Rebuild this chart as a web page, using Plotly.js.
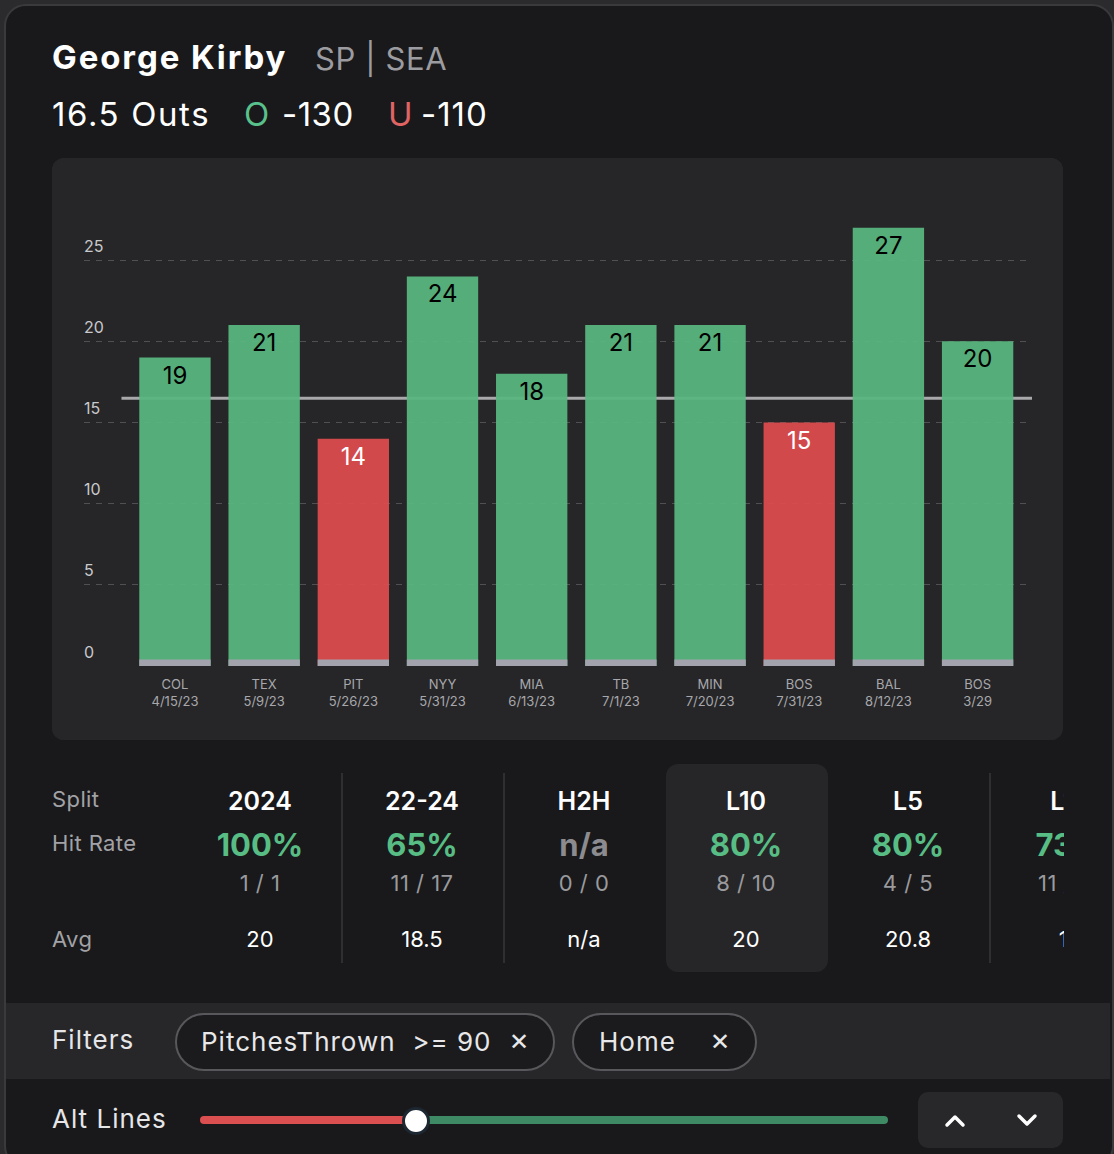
<!DOCTYPE html>
<html>
<head>
<meta charset="utf-8">
<script src="https://cdn.plot.ly/plotly-3.0.1.min.js"></script>
<style>
  html, body { margin:0; padding:0; }
  body { width:1114px; height:1154px; background:#2b2b2d; position:relative; overflow:hidden; font-family: Inter, "Noto Sans", sans-serif; }
  #card { position:absolute; left:4px; top:4px; width:1106px; height:1160px; background:#19191b; border:2px solid #3a3a3c; border-radius:22px; }
  .abs { position:absolute; white-space:nowrap; }
  #chartWrap { position:absolute; left:52px; top:158px; width:1011px; height:582px; border-radius:12px; overflow:hidden; background:#262628; }
  #chart { width:1011px; height:582px; }
  #tableClip { position:absolute; left:0; top:760px; width:1064px; height:230px; overflow:hidden; }
  .col { position:absolute; top:0; width:162px; height:230px; }
  .col div { position:absolute; left:0; width:100%; text-align:center; }
  .hdr { top:26px; font-size:25px; font-weight:600; color:#ffffff; }
  .pct { top:66px; font-size:31px; font-weight:700; color:#57bd84; }
  .frac { top:110px; font-size:22px; color:#9a9a9e; letter-spacing:0.5px; }
  .avg { top:166px; font-size:22px; color:#ffffff; }
  .divider { position:absolute; top:13px; width:2px; height:190px; background:#2f2f31; }
  .lbl { position:absolute; left:52px; font-size:22px; color:#a2a2a6; letter-spacing:0.4px; }
  #filters { position:absolute; left:6px; top:1003px; width:1104px; height:76px; background:#27272a; }
  .pill { position:absolute; top:1013px; height:54px; border:2px solid #58585c; border-radius:30px; background:#1b1b1d; color:#e8e8ea; font-size:26px; line-height:54px; letter-spacing:1px; }
</style>
</head>
<body>
<div id="card"></div>

<div class="abs" style="left:52px; top:37px; font-size:33px; font-weight:700; color:#fff; letter-spacing:1.9px;">George Kirby</div>
<div class="abs" style="left:315px; top:40px; font-size:31px; color:#9c9ca0; letter-spacing:0.6px;">SP | SEA</div>
<div class="abs" style="left:52px; top:94px; font-size:33px; color:#fff; letter-spacing:1.6px;">16.5 Outs</div>
<div class="abs" style="left:244px; top:94px; font-size:33px; color:#59c28c;">O</div>
<div class="abs" style="left:282px; top:94px; font-size:33px; color:#fff; letter-spacing:0.5px;">-130</div>
<div class="abs" style="left:388px; top:94px; font-size:33px; color:#e06464;">U</div>
<div class="abs" style="left:421px; top:94px; font-size:33px; color:#fff; letter-spacing:1px;">-110</div>

<div id="chartWrap"><div id="chart"></div></div>

<div id="tableClip">
  <div class="lbl" style="top:26px;">Split</div>
  <div class="lbl" style="top:70px;">Hit Rate</div>
  <div class="lbl" style="top:166px;">Avg</div>
  <div id="cols"></div>
</div>

<div id="filters">
  <div class="abs" style="left:46px; top:21px; font-size:26px; color:#e6e6e8; letter-spacing:1px;">Filters</div>
</div>
<div class="pill" style="left:175px; width:376px;"><span style="margin-left:24px;">PitchesThrown&nbsp;&nbsp;&gt;= 90</span><span style="position:absolute; left:332px; font-size:24px;">✕</span></div>
<div class="pill" style="left:572px; width:181px;"><span style="margin-left:25px;">Home</span><span style="position:absolute; left:136px; font-size:24px;">✕</span></div>

<div class="abs" style="left:52px; top:1103px; font-size:26px; color:#e6e6e8; letter-spacing:1px;">Alt Lines</div>
<div class="abs" style="left:200px; top:1116px; width:215px; height:8px; background:#dc4f50; border-radius:4px 0 0 4px;"></div>
<div class="abs" style="left:415px; top:1116px; width:473px; height:8px; background:#3e8a64; border-radius:0 4px 4px 0;"></div>
<div class="abs" style="left:402px; top:1107px; width:22px; height:22px; background:#fff; border-radius:50%; border:3px solid #1d2731;"></div>
<div class="abs" style="left:918px; top:1092px; width:145px; height:56px; background:#28282b; border-radius:10px;"></div>
<svg class="abs" style="left:918px; top:1092px;" width="145" height="56">
  <polyline points="29,33 37,25 45,33" fill="none" stroke="#fff" stroke-width="3.5" stroke-linecap="round" stroke-linejoin="round"/>
  <polyline points="101,24 109,32 117,24" fill="none" stroke="#fff" stroke-width="3.5" stroke-linecap="round" stroke-linejoin="round"/>
</svg>

<script>
// ---------- data ----------
const teams = ['COL','TEX','PIT','NYY','MIA','TB','MIN','BOS','BAL','BOS'];
const dates = ['4/15/23','5/9/23','5/26/23','5/31/23','6/13/23','7/1/23','7/20/23','7/31/23','8/12/23','3/29'];
const outs  = [19, 21, 14, 24, 18, 21, 21, 15, 27, 20];
const propLine = 16.5;
const yTicks = [0, 5, 10, 15, 20, 25];

const splits    = ['2024', '22-24', 'H2H', 'L10', 'L5', 'L15'];
const hitRates  = ['100%', '65%', 'n/a', '80%', '80%', '73%'];
const fractions = ['1 / 1', '11 / 17', '0 / 0', '8 / 10', '4 / 5', '11 / 15'];
const avgs      = ['20', '18.5', 'n/a', '20', '20.8', '18'];
const selectedSplit = 'L10';

// ---------- chart ----------
const GREEN = 'rgb(88,183,127)';
const RED = 'rgb(221,75,78)';
const xIdx = teams.map((_, i) => i);
const colors = outs.map(v => v > propLine ? GREEN : RED);
const txtColors = outs.map(v => v > propLine ? '#000000' : '#ffffff');
const stripH = teams.map(() => 0.4);

const bars = {
  type: 'bar', x: xIdx, y: outs, width: 0.8,
  marker: { color: colors, opacity: 0.94, line: { width: 0 } },
  text: outs.map(String), textposition: 'inside', insidetextanchor: 'end',
  textangle: 0, constraintext: 'none',
  textfont: { family: 'Inter, sans-serif', size: 24, color: txtColors },
  hoverinfo: 'skip'
};
const strips = {
  type: 'bar', x: xIdx, y: stripH, width: 0.8,
  marker: { color: '#a3a3ad', line: { width: 0 } }, hoverinfo: 'skip'
};

const layout = {
  width: 1011, height: 582,
  margin: { l: 32, r: 31, t: 21, b: 74 },
  paper_bgcolor: '#262628', plot_bgcolor: '#262628',
  showlegend: false, barmode: 'overlay',
  xaxis: {
    range: [-1.02, 9.61], showgrid: false, zeroline: false, showline: false,
    tickmode: 'array', tickvals: xIdx,
    ticktext: teams.map((t, i) => t + '<br>' + dates[i]),
    tickfont: { family: 'Inter, sans-serif', size: 13, color: '#a8a8ac' },
    ticks: '', ticklabelstandoff: 9, fixedrange: true
  },
  yaxis: {
    range: [0, 30], tickmode: 'array', tickvals: yTicks, ticktext: yTicks.map(String),
    showgrid: true, gridcolor: '#505054', griddash: '6px,6px', gridwidth: 1,
    zeroline: false, showline: false, ticks: '',
    ticklabelposition: 'inside', ticklabelstandoff: -3, ticklabelshift: -14,
    ticklabeloverflow: 'allow',
    tickfont: { family: 'Inter, sans-serif', size: 16, color: '#c9c9cc' },
    fixedrange: true
  },
  shapes: [{
    type: 'line', xref: 'x', yref: 'y', x0: -0.6, x1: 9.61, y0: propLine, y1: propLine,
    line: { color: '#a9a9ab', width: 3 }, layer: 'between'
  }]
};

Plotly.newPlot('chart', [bars, strips], layout, { displayModeBar: false, staticPlot: true });

// ---------- table ----------
const cols = document.getElementById('cols');
splits.forEach((s, i) => {
  const left = 179 + i * 162;
  if (s === selectedSplit) {
    const hl = document.createElement('div');
    hl.style.cssText = `position:absolute; left:${left + 1}px; top:4px; width:162px; height:208px; background:#262628; border-radius:12px;`;
    cols.appendChild(hl);
  }
  const c = document.createElement('div');
  c.className = 'col';
  c.style.left = left + 'px';
  const na = hitRates[i] === 'n/a';
  c.innerHTML = `<div class="hdr">${s}</div>
    <div class="pct" style="color:${na ? '#8c8c90' : '#57bd84'}">${hitRates[i]}</div>
    <div class="frac">${fractions[i]}</div>
    <div class="avg">${avgs[i]}</div>`;
  cols.appendChild(c);
});
[341, 503, 989].forEach(x => {
  const d = document.createElement('div');
  d.className = 'divider'; d.style.left = x + 'px';
  cols.appendChild(d);
});
</script>
</body>
</html>
